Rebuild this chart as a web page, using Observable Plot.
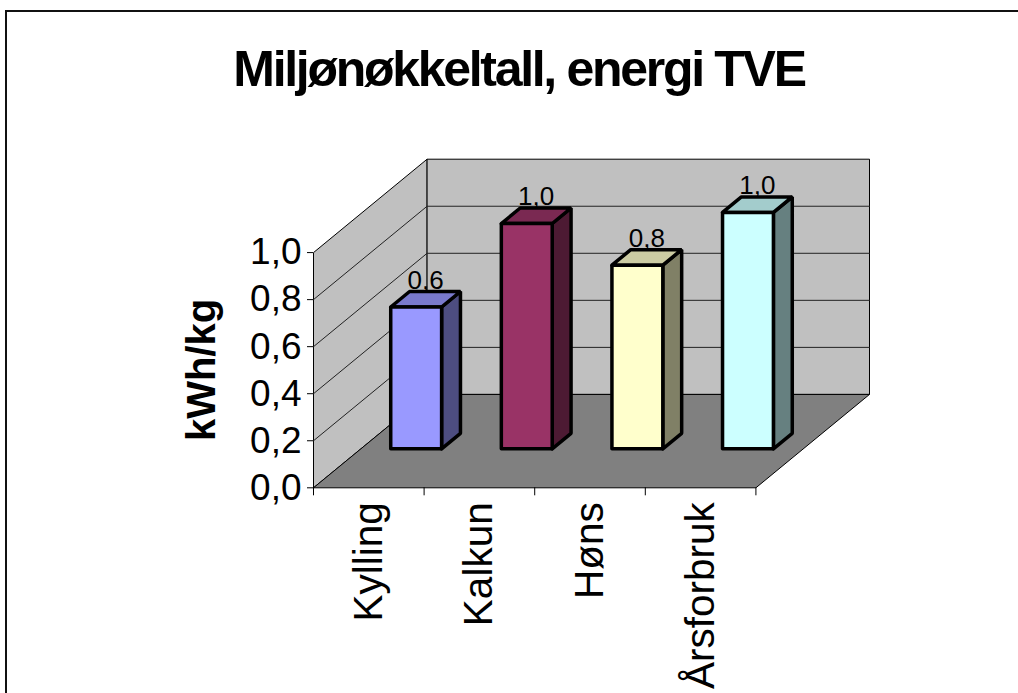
<!DOCTYPE html>
<html lang="no">
<head>
<meta charset="utf-8">
<title>Miljønøkkeltall, energi TVE</title>
<script src="https://cdn.jsdelivr.net/npm/d3@7"></script>
<script src="https://cdn.jsdelivr.net/npm/@observablehq/plot@0.6"></script>
<style>
  html, body { margin: 0; padding: 0; background: #fff; overflow: hidden; }
  #frame {
    position: absolute; left: 5px; top: 10px; right: 0; bottom: 0;
    border-left: 2px solid #111; border-top: 2px solid #111;
  }
  #heading {
    position: absolute; left: 0; top: 40px; width: 1038px; text-align: center;
    font: bold 50px "Liberation Sans", Arial, sans-serif; letter-spacing: -2.3px; color: #000;
  }
  #chart { position: absolute; left: 0; top: 0; }
</style>
</head>
<body>
<div id="frame"></div>
<div id="heading">Miljønøkkeltall, energi TVE</div>
<div id="chart"></div>
<script>
const categories = ["Kylling", "Kalkun", "Høns", "Årsforbruk"];
const values = [0.603, 0.958, 0.781, 1.005];
const frontColors = ["#9999ff", "#993366", "#ffffcc", "#ccffff"];
const topColors = ["#7a7acc", "#7a2952", "#cccca3", "#a3cccc"];
const sideColors = ["#4d4d80", "#4d1a33", "#808066", "#668080"];
const yTicks = [0, 0.2, 0.4, 0.6, 0.8, 1];

// Oblique projection: each unit of depth shifts a point right and up in data units.
const depthX = 1.027;
const depthY = 0.397;
const project = ([x, y, z]) => ({ px: x + z * depthX, py: y + z * depthY });
const n = categories.length;

function polygon(id, fill, corners) {
  return [...corners, corners[0]].map((c) => ({ ...project(c), id, fill }));
}

// Chart box: two walls and the floor.
const room = [
  ...polygon("side", "#c0c0c0", [[0, 0, 0], [0, 0, 1], [0, 1, 1], [0, 1, 0]]),
  ...polygon("back", "#c0c0c0", [[0, 0, 1], [n, 0, 1], [n, 1, 1], [0, 1, 1]]),
  ...polygon("floor", "#808080", [[0, 0, 0], [n, 0, 0], [n, 0, 1], [0, 0, 1]])
];

// Gridlines run back along the side wall, then across the back wall.
const grid = yTicks.slice(1, -1).flatMap((v) =>
  [[0, v, 0], [0, v, 1], [n, v, 1]].map((c) => ({ ...project(c), id: v }))
);

// Each bar is a box: side, top and front faces in painting order.
const barWidth = 0.46;
const z0 = 0.417, z1 = 0.583;
const faces = categories.flatMap((name, i) => {
  const a = i + 0.5 - barWidth / 2, b = i + 0.5 + barWidth / 2, v = values[i];
  return [
    ...polygon(name + " side", sideColors[i], [[b, 0, z0], [b, 0, z1], [b, v, z1], [b, v, z0]]),
    ...polygon(name + " top", topColors[i], [[a, v, z0], [b, v, z0], [b, v, z1], [a, v, z1]]),
    ...polygon(name + " front", frontColors[i], [[a, 0, z0], [b, 0, z0], [b, v, z0], [a, v, z0]])
  ];
});

const comma = (v) => d3.format(".1f")(v).replace(".", ",");
const barLabels = categories.map((name, i) => ({
  ...project([i + 0.5, values[i], 0.5]),
  label: comma(values[i])
}));

const font = '"Liberation Sans", Arial, sans-serif';

const plot = Plot.plot({
  width: 1018,
  height: 693,
  marginLeft: 313,
  marginRight: 149,
  marginTop: 158.7,
  marginBottom: 205.7,
  style: { fontFamily: font, background: "transparent", overflow: "hidden" },
  x: { domain: [0, n + depthX], axis: null },
  y: { domain: [0, 1 + depthY], axis: null },
  marks: [
    Plot.line(room, { x: "px", y: "py", z: "id", fill: "fill", stroke: "#000", strokeWidth: 1 }),
    Plot.line(grid, { x: "px", y: "py", z: "id", stroke: "#222", strokeWidth: 1 }),
    // tick marks on the front edge of the floor and up the near wall
    Plot.ruleX(d3.range(n + 1), { x: (d) => d, y1: 0, y2: 0, insetBottom: -8, stroke: "#000" }),
    Plot.ruleY(yTicks, { y: (d) => d, x1: 0, x2: 0, insetLeft: -6, stroke: "#000" }),
    Plot.text(yTicks, {
      x: () => 0, y: (d) => d, text: comma, textAnchor: "end", dx: -12, fontSize: 37, fill: "#000"
    }),
    Plot.line(faces, {
      x: "px", y: "py", z: "id", fill: "fill", stroke: "#000", strokeWidth: 3.5, strokeLinejoin: "miter"
    }),
    Plot.text(barLabels, {
      x: "px", y: "py", text: "label", dy: -19, fontSize: 26, fill: "#000"
    }),
    Plot.text(categories, {
      x: (d, i) => i + 0.5, y: () => 0, text: (d) => d, rotate: -90, textAnchor: "end",
      dy: 14.5, fontSize: 40.5, fill: "#000"
    }),
    Plot.text(["kWh/kg"], {
      frameAnchor: "left", text: (d) => d, rotate: -90, textAnchor: "middle", dx: -111, dy: 46.5,
      fontSize: 40, fontWeight: "bold", fill: "#000"
    })
  ]
});
document.getElementById("chart").append(plot);
</script>
</body>
</html>
